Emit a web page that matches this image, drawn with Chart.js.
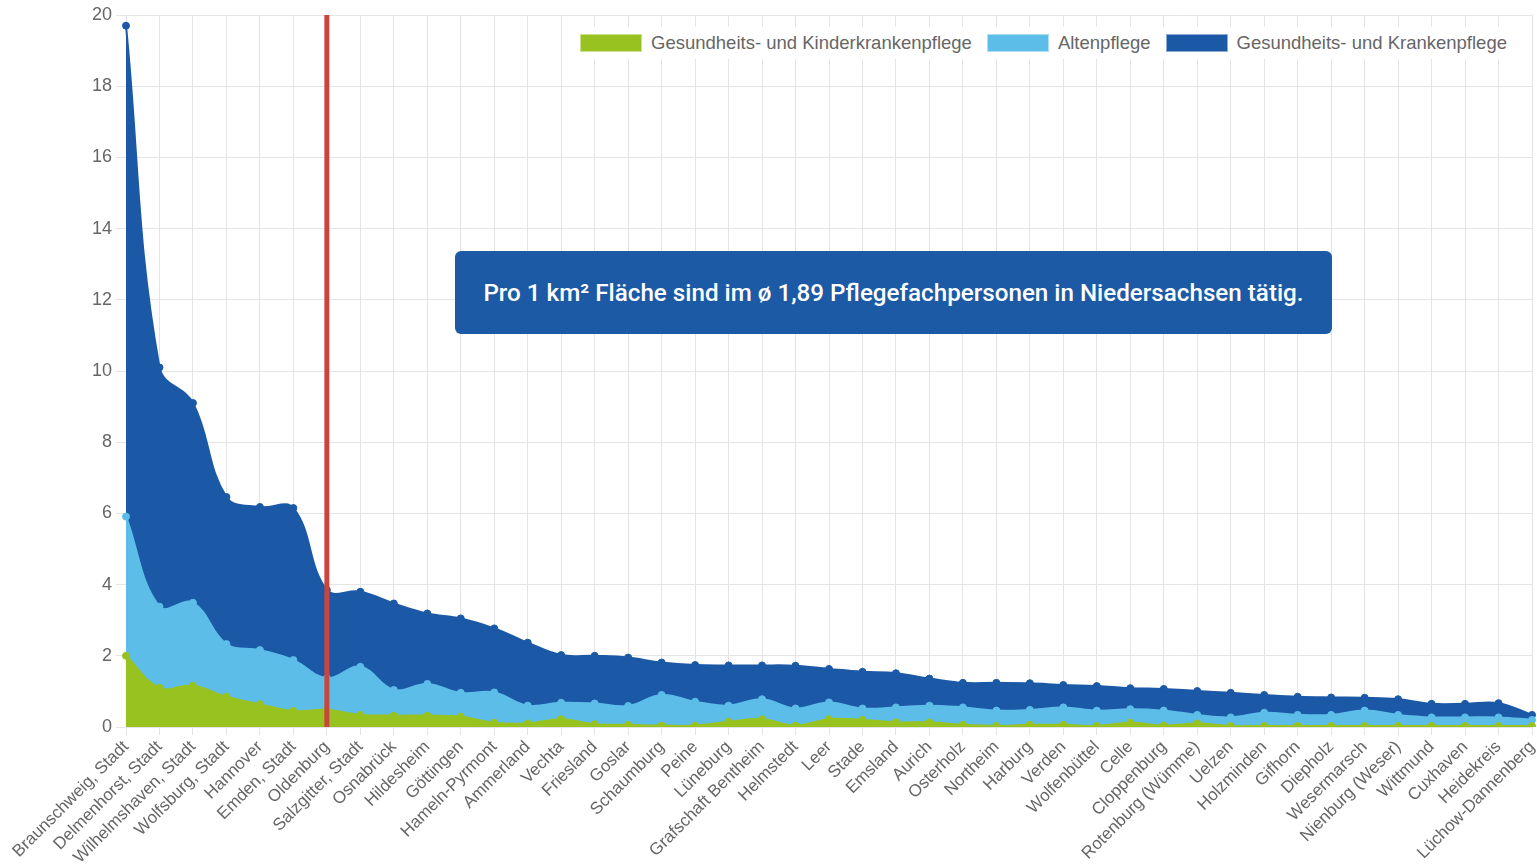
<!DOCTYPE html>
<html lang="de">
<head>
<meta charset="utf-8">
<title>Pflegefachpersonen pro km² in Niedersachsen</title>
<script src="https://cdn.jsdelivr.net/npm/chart.js@4.4.1/dist/chart.umd.min.js"></script>
<style>
  html, body { margin: 0; padding: 0; background: #fff; }
  #wrap { position: relative; width: 1537px; height: 865px; overflow: hidden; }
  #chart { display: block; }
  #legend {
    position: absolute; top: 27px; right: 20px; height: 32px;
    display: flex; align-items: center; background: #fff; padding: 0 10px;
    font: 18.5px "Liberation Sans", Arial, sans-serif; color: #666; white-space: nowrap;
  }
  #legend .item { display: flex; align-items: center; margin-left: 15px; }
  #legend .item:first-child { margin-left: 0; }
  #legend .box { width: 60px; height: 16px; margin-right: 9px; border: 1px solid rgba(255,255,255,0.5); }
  #note {
    position: absolute; left: 455px; top: 251px; width: 877px; height: 83px;
    background: #1c5aa6; border-radius: 6px; color: #fff;
    display: flex; align-items: center; justify-content: center;
    font: 500 24.2px Roboto, "Noto Sans", sans-serif;
  }
</style>
</head>
<body>
<div id="wrap">
  <canvas id="chart" width="1537" height="865"></canvas>
  <div id="legend"></div>
  <div id="note">Pro 1 km² Fläche sind im ø 1,89 Pflegefachpersonen in Niedersachsen tätig.</div>
</div>
<script>
// Landkreise und kreisfreie Städte, sortiert nach Dichte
const regions = [
  'Braunschweig, Stadt', 'Delmenhorst, Stadt', 'Wilhelmshaven, Stadt', 'Wolfsburg, Stadt',
  'Hannover', 'Emden, Stadt', 'Oldenburg', 'Salzgitter, Stadt', 'Osnabrück', 'Hildesheim',
  'Göttingen', 'Hameln-Pyrmont', 'Ammerland', 'Vechta', 'Friesland', 'Goslar', 'Schaumburg',
  'Peine', 'Lüneburg', 'Grafschaft Bentheim', 'Helmstedt', 'Leer', 'Stade', 'Emsland',
  'Aurich', 'Osterholz', 'Northeim', 'Harburg', 'Verden', 'Wolfenbüttel', 'Celle',
  'Cloppenburg', 'Rotenburg (Wümme)', 'Uelzen', 'Holzminden', 'Gifhorn', 'Diepholz',
  'Wesermarsch', 'Nienburg (Weser)', 'Wittmund', 'Cuxhaven', 'Heidekreis', 'Lüchow-Dannenberg'
];

// Pflegefachpersonen pro km², je Berufsgruppe
const kinderkrankenpflege = [
  2.00, 1.10, 1.16, 0.85, 0.64, 0.45, 0.48, 0.34, 0.32, 0.32, 0.29, 0.12, 0.10, 0.22, 0.08,
  0.06, 0.04, 0.04, 0.15, 0.22, 0.04, 0.22, 0.20, 0.13, 0.13, 0.06, 0.03, 0.06, 0.06, 0.03,
  0.12, 0.04, 0.10, 0.03, 0.03, 0.03, 0.03, 0.03, 0.03, 0.03, 0.03, 0.03, 0.03
];
const altenpflege = [
  3.91, 2.28, 2.33, 1.48, 1.52, 1.43, 0.89, 1.35, 0.72, 0.89, 0.67, 0.85, 0.50, 0.46, 0.58,
  0.53, 0.86, 0.67, 0.45, 0.56, 0.48, 0.47, 0.32, 0.42, 0.47, 0.49, 0.43, 0.42, 0.49, 0.43,
  0.38, 0.42, 0.24, 0.24, 0.37, 0.31, 0.31, 0.43, 0.31, 0.24, 0.24, 0.24, 0.17
];
const krankenpflege = [
  13.79, 6.72, 5.61, 4.13, 4.02, 4.27, 2.48, 2.11, 2.43, 1.98, 2.09, 1.80, 1.77, 1.34, 1.34,
  1.36, 0.91, 1.03, 1.13, 0.95, 1.20, 0.94, 1.03, 0.96, 0.76, 0.69, 0.78, 0.75, 0.63, 0.69,
  0.59, 0.61, 0.67, 0.69, 0.50, 0.51, 0.49, 0.36, 0.44, 0.38, 0.38, 0.40, 0.14
];

const seriesNames = ['Gesundheits- und Kinderkrankenpflege', 'Altenpflege', 'Gesundheits- und Krankenpflege'];
const seriesColors = ['#98c21f', '#5dbde9', '#1b59a6'];
const yMax = 20;
const yStep = 2;
const markedRegion = 'Oldenburg';

// senkrechte Markierung über der hervorgehobenen Region
const markerLine = {
  id: 'markerLine',
  afterDatasetsDraw(chart) {
    const { ctx, chartArea } = chart;
    const x = chart.scales.x.getPixelForValue(regions.indexOf(markedRegion));
    ctx.save();
    ctx.fillStyle = '#c9463f';
    ctx.fillRect(x - 2.5, chartArea.top, 5, chartArea.bottom - chartArea.top);
    ctx.restore();
  }
};

const values = [kinderkrankenpflege, altenpflege, krankenpflege];
const datasets = values.map((data, i) => ({
  label: seriesNames[i],
  data,
  borderColor: seriesColors[i],
  backgroundColor: seriesColors[i],
  pointBackgroundColor: seriesColors[i],
  pointBorderColor: seriesColors[i],
  fill: i === 0 ? 'origin' : '-1'
}));

const chart = new Chart(document.getElementById('chart'), {
  type: 'line',
  data: { labels: regions, datasets },
  plugins: [markerLine],
  options: {
    responsive: false,
    animation: false,
    layout: { padding: { top: 15, right: 5, left: 0, bottom: 0 } },
    elements: {
      line: { tension: 0.4, borderWidth: 2 },
      point: { radius: 3.5, borderWidth: 1 }
    },
    plugins: { legend: { display: false }, tooltip: { enabled: false } },
    scales: {
      x: {
        grid: { color: '#e4e4e4', tickLength: 8 },
        border: { color: '#e4e4e4' },
        ticks: {
          autoSkip: false, minRotation: 45, maxRotation: 45, padding: 2,
          color: '#666', font: { family: '"Liberation Sans", Arial, sans-serif', size: 17 }
        },
        afterFit(scale) {
          scale.height = 138;
          scale.paddingLeft = 0;
          scale.paddingRight = 0;
        }
      },
      y: {
        stacked: true, min: 0, max: yMax,
        grid: { color: '#e4e4e4', tickLength: 10 },
        border: { color: '#e4e4e4' },
        ticks: {
          stepSize: yStep, padding: 4, color: '#666',
          font: { family: '"Liberation Sans", Arial, sans-serif', size: 18 }
        },
        afterFit(scale) { scale.width = 126; }
      }
    }
  }
});

// Legende
const legend = document.getElementById('legend');
datasets.forEach(ds => {
  const item = document.createElement('div');
  item.className = 'item';
  const box = document.createElement('span');
  box.className = 'box';
  box.style.background = ds.backgroundColor;
  const txt = document.createElement('span');
  txt.textContent = ds.label;
  item.appendChild(box);
  item.appendChild(txt);
  legend.appendChild(item);
});
</script>
</body>
</html>
